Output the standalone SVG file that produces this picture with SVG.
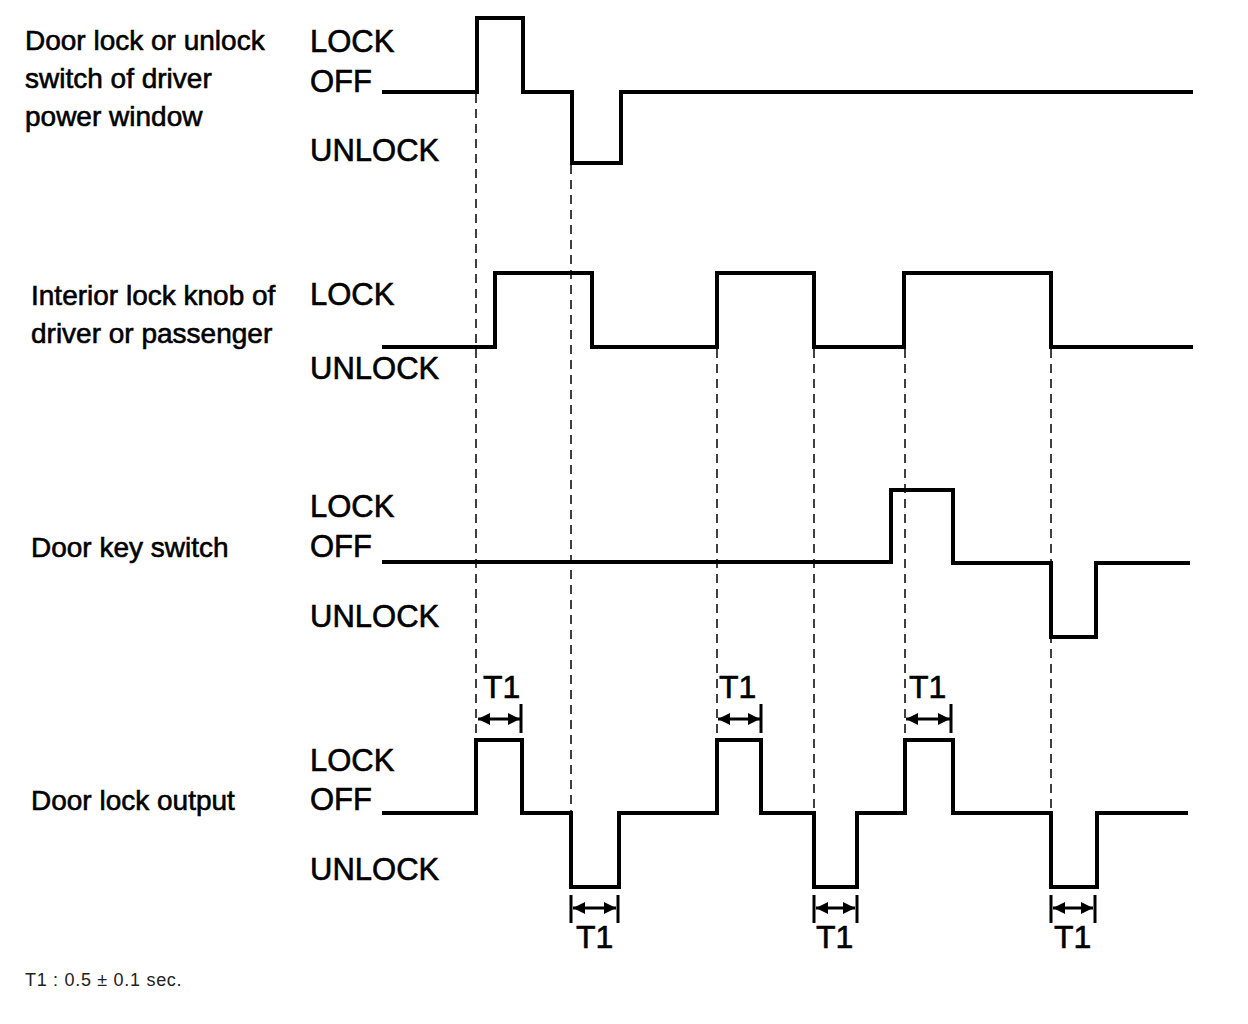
<svg xmlns="http://www.w3.org/2000/svg" width="1248" height="1024" viewBox="0 0 1248 1024">
<defs>
<style>
.lbl{font-family:"Liberation Sans",Arial,sans-serif;font-size:28px;fill:#000;stroke:#000;stroke-width:0.6}
.st{font-family:"Liberation Sans",Arial,sans-serif;font-size:31px;fill:#000;stroke:#000;stroke-width:0.6}
.t1{font-family:"Liberation Sans",Arial,sans-serif;font-size:32px;fill:#000;stroke:#000;stroke-width:0.6}
.wave{fill:none;stroke:#000;stroke-width:4;stroke-linejoin:miter;stroke-linecap:butt}
.dash{fill:none;stroke:#000;stroke-width:1.5;stroke-dasharray:9 6}
.tick{stroke:#000;stroke-width:3}
.arr{stroke:#000;stroke-width:3;marker-start:url(#ah);marker-end:url(#ah)}
.note{font-family:"Liberation Sans",Arial,sans-serif;font-size:18px;letter-spacing:0.7px;fill:#222}
</style>
<marker id="ah" viewBox="0 0 10 10" refX="10" refY="5" markerWidth="12" markerHeight="12" markerUnits="userSpaceOnUse" orient="auto-start-reverse">
<path d="M0,0 L10,5 L0,10 Z" fill="#000"/>
</marker>
</defs>
<rect width="1248" height="1024" fill="#fff"/>

<g id="connectors">
<line class="dash" x1="476" y1="94" x2="476" y2="740"/>
<line class="dash" x1="571" y1="165" x2="571" y2="813"/>
<line class="dash" x1="717" y1="349" x2="717" y2="740"/>
<line class="dash" x1="814" y1="349" x2="814" y2="813"/>
<line class="dash" x1="905" y1="349" x2="905" y2="740"/>
<line class="dash" x1="1051" y1="349" x2="1051" y2="813"/>
</g>

<g id="sig-switch">
<text class="lbl" x="25" y="50">Door lock or unlock</text>
<text class="lbl" x="25" y="88">switch of driver</text>
<text class="lbl" x="25" y="126">power window</text>
<text class="st" x="310" y="52">LOCK</text>
<text class="st" x="310" y="92">OFF</text>
<text class="st" x="310" y="161">UNLOCK</text>
<polyline class="wave" points="382,92 477,92 477,18 523,18 523,92 572,92 572,163 621,163 621,92 1193,92"/>
</g>

<g id="sig-knob">
<text class="lbl" x="31" y="305">Interior lock knob of</text>
<text class="lbl" x="31" y="343">driver or passenger</text>
<text class="st" x="310" y="305">LOCK</text>
<text class="st" x="310" y="379">UNLOCK</text>
<polyline class="wave" points="382,347 495,347 495,273 592,273 592,347 717,347 717,273 814,273 814,347 904,347 904,273 1051,273 1051,347 1193,347"/>
</g>

<g id="sig-key">
<text class="lbl" x="31" y="557">Door key switch</text>
<text class="st" x="310" y="517">LOCK</text>
<text class="st" x="310" y="557">OFF</text>
<text class="st" x="310" y="627">UNLOCK</text>
<polyline class="wave" points="382,562 891,562 891,490 953,490 953,563 1051,563 1051,637 1096,637 1096,563 1190,563"/>
</g>

<g id="sig-output">
<text class="lbl" x="31" y="810">Door lock output</text>
<text class="st" x="310" y="771">LOCK</text>
<text class="st" x="310" y="810">OFF</text>
<text class="st" x="310" y="880">UNLOCK</text>
<polyline class="wave" points="382,813 476,813 476,740 522,740 522,813 571,813 571,887 619,887 619,813 717,813 717,740 761,740 761,813 814,813 814,887 857,887 857,813 905,813 905,740 953,740 953,813 1051,813 1051,887 1097,887 1097,813 1188,813"/>
</g>

<g id="t1-marks">
<text class="t1" x="483" y="698">T1</text>
<line class="arr" x1="478" y1="719" x2="520" y2="719"/>
<line class="tick" x1="521" y1="704" x2="521" y2="733"/>
<text class="t1" x="719" y="698">T1</text>
<line class="arr" x1="718" y1="719" x2="760" y2="719"/>
<line class="tick" x1="761" y1="704" x2="761" y2="733"/>
<text class="t1" x="909" y="698">T1</text>
<line class="arr" x1="906" y1="719" x2="950" y2="719"/>
<line class="tick" x1="951" y1="704" x2="951" y2="733"/>

<line class="tick" x1="571" y1="895" x2="571" y2="923"/>
<line class="tick" x1="618" y1="895" x2="618" y2="923"/>
<line class="arr" x1="573" y1="908" x2="616" y2="908"/>
<text class="t1" x="576" y="948">T1</text>
<line class="tick" x1="814" y1="895" x2="814" y2="923"/>
<line class="tick" x1="857" y1="895" x2="857" y2="923"/>
<line class="arr" x1="816" y1="908" x2="855" y2="908"/>
<text class="t1" x="816" y="948">T1</text>
<line class="tick" x1="1051" y1="895" x2="1051" y2="923"/>
<line class="tick" x1="1095" y1="895" x2="1095" y2="923"/>
<line class="arr" x1="1053" y1="908" x2="1093" y2="908"/>
<text class="t1" x="1054" y="948">T1</text>
</g>

<text class="note" x="25" y="986">T1 : 0.5 ± 0.1 sec.</text>
</svg>
